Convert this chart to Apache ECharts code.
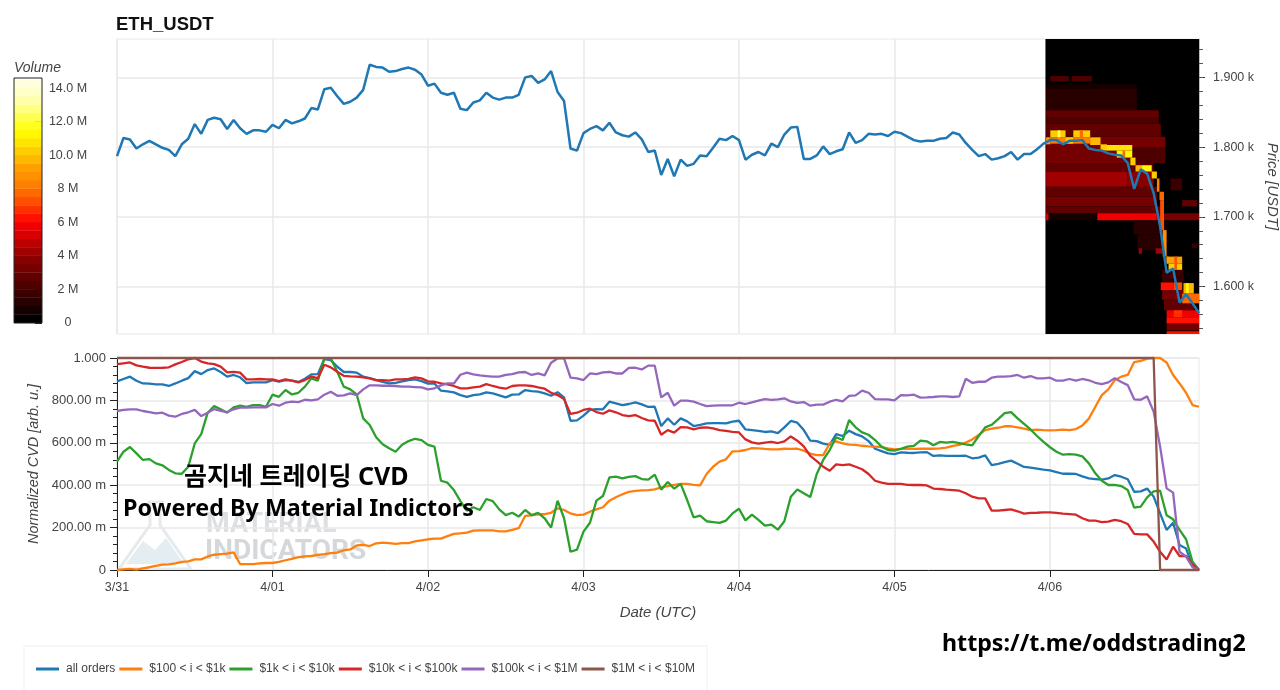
<!DOCTYPE html>
<html><head><meta charset="utf-8">
<style>html,body{margin:0;padding:0;background:#fff}#c{width:1280px;height:690px}</style>
<script src="https://cdn.jsdelivr.net/npm/echarts@6/dist/echarts.min.js"></script>
</head><body><div id="c"></div>
<script>
const dayTicks=[0,24,48,72,96,120,144];
const dayLabels=['3/31','4/01','4/02','4/03','4/04','4/05','4/06'];
const priceTicks=[1600,1700,1800,1900];
const priceLabels=['1.600 k','1.700 k','1.800 k','1.900 k'];
const priceMinorTicks=[1540,1560,1580,1600,1620,1640,1660,1680,1700,1720,1740,1760,1780,1800,1820,1840,1860,1880,1900,1920,1940];
const cvdLabels=['0','200.00 m','400.00 m','600.00 m','800.00 m','1.000'];
const volumeTicks=[0,2,4,6,8,10,12,14];
const volumeLabels=['0','2 M','4 M','6 M','8 M','10.0 M','12.0 M','14.0 M'];
const legendNames=['all orders','$100 < i < $1k','$1k < i < $10k','$10k < i < $100k','$100k < i < $1M','$1M < i < $10M'];
const lineColors=['#1f77b4','#ff7f0e','#2ca02c','#d62728','#9467bd','#8c564b'];

const price=[1787,1813,1811,1798,1804,1809,1804,1799,1796,1787,
1804,1812,1833,1819,1839,1842,1840,1826,1839,1827,
1819,1824,1824,1822,1832,1827,1839,1834,1837,1841,
1856,1854,1883,1885,1873,1862,1865,1871,1882,1918,
1915,1914,1908,1909,1912,1914,1911,1904,1888,1891,
1878,1875,1878,1855,1853,1864,1867,1878,1871,1868,
1871,1871,1875,1900,1902,1892,1897,1909,1879,1866,
1798,1795,1820,1826,1830,1824,1835,1821,1817,1815,
1821,1811,1793,1795,1760,1783,1758,1782,1773,1776,
1788,1787,1799,1812,1810,1816,1810,1782,1789,1793,
1788,1805,1800,1818,1828,1829,1783,1783,1788,1801,
1790,1794,1797,1821,1806,1810,1819,1818,1819,1816,
1822,1820,1815,1810,1808,1809,1809,1812,1813,1821,
1818,1806,1796,1787,1790,1782,1784,1787,1793,1782,
1790,1790,1797,1805,1810,1810,1804,1809,1809,1810,
1798,1796,1795,1791,1789,1788,1777,1740,1768,1762,
1734,1686,1620,1626,1577,1589,1576,1562];

const cvdAll=[890,901,912,893,880,879,876,876,868,880,
893,905,938,924,943,951,934,912,920,909,
882,885,885,885,896,888,896,893,887,902,
923,924,995,990,959,934,934,931,912,905,
896,887,880,883,890,896,899,891,879,880,
846,843,838,825,817,825,828,838,833,824,
814,827,828,849,844,841,833,822,839,813,
704,706,728,755,759,758,794,786,778,783,
791,781,769,770,679,715,685,715,701,679,
685,692,693,693,692,700,704,663,660,656,
651,654,646,673,703,695,660,610,608,596,
590,641,632,657,641,630,608,572,561,550,
547,555,553,552,555,556,538,541,538,538,
538,539,527,530,541,495,501,509,516,501,
486,483,478,473,470,462,454,454,453,442,
432,429,426,432,448,440,428,369,371,384,
346,267,189,223,118,101,19,0];

const cvd100=[0,3,5,2,8,13,19,25,27,31,
38,41,50,50,64,72,75,77,83,28,
28,28,31,33,33,38,46,53,61,64,
66,71,75,80,82,93,97,116,118,113,
126,129,127,123,127,127,135,140,145,148,
148,160,170,173,176,186,187,187,187,182,
182,189,197,255,258,263,263,270,291,283,
267,259,261,275,286,296,327,343,357,369,
373,376,377,380,390,396,401,406,406,402,
399,453,487,511,522,560,561,566,575,574,
571,569,569,572,571,572,563,549,542,542,
597,607,597,591,590,586,583,582,580,574,
569,571,571,571,572,572,572,574,577,585,
590,601,616,637,660,667,671,678,678,673,
667,660,662,660,659,660,662,660,665,682,
714,770,825,852,896,912,920,981,986,997,
1000,1000,979,920,880,836,778,770];

const cvd1k=[511,558,580,550,519,523,503,494,472,456,
454,487,597,641,742,773,758,742,767,775,
769,778,778,770,827,817,849,828,836,865,
904,893,998,998,935,865,852,828,715,684,
626,593,574,558,591,608,619,613,590,582,
421,412,377,325,280,296,283,335,325,286,
259,270,252,283,259,270,244,200,327,244,
86,96,181,223,327,349,437,440,432,439,
443,429,426,450,379,415,384,406,330,248,
256,230,226,222,233,267,289,234,261,236,
209,214,190,230,346,380,362,344,453,519,
566,626,613,707,673,649,638,613,582,566,
563,572,582,585,610,607,588,604,601,604,
599,593,588,632,673,685,712,740,745,715,
689,663,632,604,579,558,544,547,544,536,
503,456,421,401,402,396,377,294,299,343,
371,374,258,239,189,145,39,0];

const cvd10k=[971,975,979,965,959,954,953,954,956,970,
981,994,1000,983,975,971,959,932,935,931,
899,899,901,899,899,891,899,893,885,896,
912,905,968,956,935,916,913,912,909,904,
896,896,893,899,899,902,909,904,890,888,
880,876,868,857,857,861,865,877,868,860,
855,868,871,871,868,861,855,836,825,806,
736,742,755,761,745,737,753,744,731,726,
731,717,706,704,638,660,648,674,673,663,
671,673,668,660,656,652,649,616,602,596,
601,604,599,607,630,610,583,538,514,487,
468,498,495,498,487,475,453,421,412,406,
406,406,402,401,401,399,384,382,379,377,
374,362,346,338,338,280,280,283,286,277,
266,269,270,272,272,269,266,264,261,244,
233,233,226,228,236,230,217,170,168,168,
134,86,50,110,66,66,24,0];

const cvd100k=[750,755,758,758,750,745,739,742,728,723,
736,744,755,726,742,759,751,745,758,766,
766,767,767,767,783,775,789,794,792,803,
800,805,827,841,822,824,833,825,852,871,
871,869,869,868,865,865,863,861,852,857,
871,880,880,921,931,923,918,915,912,912,
920,924,932,934,920,927,918,978,998,998,
907,904,896,927,924,932,934,927,927,953,
954,946,964,964,814,836,775,799,799,794,
783,773,775,777,777,777,789,783,791,799,
806,802,805,810,795,788,792,775,780,780,
794,803,795,821,824,846,836,806,805,805,
800,825,824,827,813,814,816,819,819,816,
819,902,883,888,888,907,912,912,915,920,
907,915,904,904,907,893,893,901,893,901,
895,883,877,885,905,887,872,805,803,819,
747,582,385,365,86,63,13,0];

const cvd1M=[1000,1000,1000,1000,1000,1000,1000,1000,1000,1000,
1000,1000,1000,1000,1000,1000,1000,1000,1000,1000,
1000,1000,1000,1000,1000,1000,1000,1000,1000,1000,
1000,1000,1000,1000,1000,1000,1000,1000,1000,1000,
1000,1000,1000,1000,1000,1000,1000,1000,1000,1000,
1000,1000,1000,1000,1000,1000,1000,1000,1000,1000,
1000,1000,1000,1000,1000,1000,1000,1000,1000,1000,
1000,1000,1000,1000,1000,1000,1000,1000,1000,1000,
1000,1000,1000,1000,1000,1000,1000,1000,1000,1000,
1000,1000,1000,1000,1000,1000,1000,1000,1000,1000,
1000,1000,1000,1000,1000,1000,1000,1000,1000,1000,
1000,1000,1000,1000,1000,1000,1000,1000,1000,1000,
1000,1000,1000,1000,1000,1000,1000,1000,1000,1000,
1000,1000,1000,1000,1000,1000,1000,1000,1000,1000,
1000,1000,1000,1000,1000,1000,1000,1000,1000,1000,
1000,1000,1000,1000,1000,1000,1000,1000,1000,1000,
1000,0,0,0,0,0,0,0];

/* colour bar levels in M, one colour each */
const volumeLevels=[0,.5,1,1.5,2,2.5,3,3.5,4,4.5,5,5.5,6,6.5,7,7.5,8,8.5,9,9.5,10,10.5,11,11.5,12,12.5,13,13.5,14,14.5];
const volumeColors=['#000000','#150000','#280000','#3a0000','#4d0000','#600000','#740000','#880000','#a00000','#bc0000','#d80000','#f00000','#ff1000','#ff3000','#ff5000','#ff6800','#ff8000','#ff9000','#ffa000','#ffb800','#ffcc00','#ffe400','#fff800','#ffff20','#ffff50','#ffff80','#ffffa8','#ffffc8','#ffffe0','#fffff5'];

/* order-book volume: [hour from, hour to, price low, price high, volume M]; later rows lie on top */
const heatBands=[
[143.3,167,1532,1955,0],
[143.4,157.4,1884,1891,.5],
[143.4,157.4,1853,1884,1],
[144.05,146.9,1894,1902,2],
[147.4,150.5,1894,1902,2],
[143.4,160.8,1843,1853,2.5],
[143.4,160.8,1834,1843,2],
[143.4,161.1,1815,1834,2.5],
[143.4,161.8,1800,1815,3],
[143.4,156.4,1777,1800,3],
[156.4,161.8,1777,1800,2],
[143.4,160,1765,1777,2.5],
[143.4,155.9,1743,1765,4],
[155.9,160,1743,1765,3.5],
[143.4,160.5,1729,1743,2.5],
[143.4,160.5,1715,1729,3],
[143.4,161,1705,1715,2.5],
[143.4,143.8,1695,1705,5],
[143.8,151.3,1695,1705,.5],
[151.3,160.5,1695,1705,5.5],
[160.5,167,1695,1705,3],
[156.9,161.8,1675,1695,1],
[157.5,161.8,1652,1675,1],
[162.6,164.4,1738,1755,1.5],
[164.4,166.7,1715,1724,2.5],
[157.7,158.2,1647,1655,4],
[160.3,161.3,1647,1655,4],
[165.9,166.7,1655,1662,1.5],
[161.3,164.6,1607,1624,1.5],
[161.1,163.1,1595,1606,6],
[163.1,164.4,1595,1606,7],
[161.3,164.6,1581,1595,3],
[161.6,166.2,1566,1581,2.5],
[162,167,1556,1566,5.5],
[163.1,164.4,1556,1566,6.5],
[162,167,1547,1556,6],
[162,167,1537,1547,3],
[162,167,1532,1536,6],
[162,164.4,1633,1643,9],
[162.3,164.4,1624,1633,10],
[163.2,163.6,1624,1643,7],
[164.6,166.2,1590,1605,9.5],
[165,165.4,1590,1605,11],
[164.4,167,1576,1590,7.5],
[143.4,144.05,1804,1814,9],
[144.05,147.6,1805,1814,8],
[147.6,150.2,1805,1814,8],
[144.05,146.4,1814,1824,10],
[145.2,145.6,1814,1824,12],
[146.4,147.6,1805,1814,10],
[147.6,150.2,1814,1824,10],
[148.6,149.1,1814,1824,7.5],
[150.2,151.8,1803,1814,9.5],
[151.8,152.8,1795,1804,10],
[152.8,156.7,1795,1803,10.5],
[154.3,156.7,1785,1795,11],
[155.2,155.6,1785,1795,7.5],
[156.4,157.2,1774,1785,10],
[157.2,158.2,1765,1774,9.5],
[158.2,159.7,1765,1774,11],
[159.7,160.5,1755,1765,10],
[160.5,160.9,1736,1755,8],
[160.9,161.6,1724,1736,7.5],
[161,161.6,1681,1724,7],
[161.4,162,1643,1681,8.5],
[162,162.3,1633,1643,9]
];

const hourly=a=>a.map((v,i)=>[i,v]);
const lineSets=[cvdAll,cvd100,cvd1k,cvd10k,cvd100k,cvd1M];
const TXT='#444';
const FONT='"Liberation Sans",Arial,sans-serif';
const axisText={color:TXT,fontSize:12.5,fontFamily:FONT};
const nameText={color:'#444',fontSize:15,fontStyle:'italic',fontFamily:FONT};
const gridLine={show:true,lineStyle:{color:'#e8e8e8',width:1.5}};

const chart=echarts.init(document.getElementById('c'),null,{renderer:'canvas'});
chart.setOption({
  animation:false,
  backgroundColor:'#fff',
  title:{text:'ETH_USDT',left:111,top:10,textStyle:{fontSize:18.5,fontWeight:'bold',color:'#111',fontFamily:FONT}},
  legend:{data:legendNames,left:31,top:658,itemWidth:23,itemHeight:3,itemGap:4,icon:'rect',
    textStyle:{fontSize:12,color:'#444',fontFamily:FONT,padding:[0,0,0,2]}},
  grid:[
    {left:117,top:39,width:1082,height:295,show:true,borderColor:'#e8e8e8',borderWidth:1,outerBoundsMode:'none'},
    {left:117,top:358,width:1082,height:212,show:true,borderColor:'#e8e8e8',borderWidth:1,outerBoundsMode:'none'},
    {left:14,top:78,width:28,height:245,outerBoundsMode:'none'}
  ],
  xAxis:[
    {gridIndex:0,type:'value',min:0,max:167,axisLine:{show:false},axisTick:{show:false,customValues:dayTicks},axisLabel:{show:false,customValues:dayTicks},splitLine:gridLine},
    {gridIndex:1,type:'value',min:0,max:167,name:'Date (UTC)',nameLocation:'middle',nameGap:35,nameTextStyle:nameText,
      axisLine:{show:true,onZero:false,lineStyle:{color:'#222'}},
      axisTick:{show:true,length:7,customValues:dayTicks,lineStyle:{color:'#222'}},
      axisLabel:{...axisText,margin:11,customValues:dayTicks,formatter:v=>dayLabels[dayTicks.indexOf(v)]||''},
      splitLine:gridLine},
    {gridIndex:2,type:'value',min:0,max:1,show:false}
  ],
  yAxis:[
    {gridIndex:0,type:'value',position:'right',min:1532,max:1955,name:'Price [USDT]',nameLocation:'middle',nameGap:62,nameRotate:-90,nameTextStyle:nameText,
      axisLine:{show:true,onZero:false,lineStyle:{color:'#bbb'}},
      axisTick:{show:true,length:6,customValues:priceTicks,lineStyle:{color:'#333'}},
      axisLabel:{...axisText,margin:14,customValues:priceTicks,formatter:v=>priceLabels[priceTicks.indexOf(v)]||''},
      splitLine:gridLine},
    {gridIndex:0,type:'value',position:'right',min:1532,max:1955,axisLine:{show:false,onZero:false},
      axisTick:{show:true,length:4,customValues:priceMinorTicks,lineStyle:{color:'#555'}},
      axisLabel:{show:false,customValues:priceMinorTicks},splitLine:{show:false}},
    {gridIndex:1,type:'value',min:0,max:1000,interval:200,name:'Normalized CVD [arb. u.]',nameLocation:'middle',nameGap:71,nameTextStyle:{...nameText,fontSize:14.4},
      axisLine:{show:true,onZero:false,lineStyle:{color:'#222'}},
      axisTick:{show:true,length:7,lineStyle:{color:'#222'}},
      minorTick:{show:true,splitNumber:5,length:4,lineStyle:{color:'#222'}},
      axisLabel:{...axisText,fontSize:13,margin:11,formatter:v=>cvdLabels[Math.round(v/200)]},
      splitLine:gridLine},
    {gridIndex:2,type:'value',position:'right',min:0,max:14.6,
      axisLine:{show:false,onZero:false},
      axisTick:{show:true,inside:true,length:7,customValues:volumeTicks,lineStyle:{color:'#222'}},
      axisLabel:{...axisText,margin:26,align:'center',customValues:volumeTicks,formatter:v=>volumeLabels[volumeTicks.indexOf(v)]||''},
      splitLine:{show:false}}
  ],
  series:[
    {type:'custom',name:'heat',xAxisIndex:0,yAxisIndex:0,z:1,clip:true,silent:true,
      encode:{x:[0,1],y:[2,3]},data:heatBands,
      renderItem:(p,api)=>{
        const a=api.coord([api.value(0),api.value(3)]),b=api.coord([api.value(1),api.value(2)]);
        return {type:'rect',shape:{x:a[0],y:a[1],width:b[0]-a[0],height:b[1]-a[1]},
          style:{fill:volumeColors[volumeLevels.indexOf(api.value(4))]}};
      }},
    {type:'line',name:'price',xAxisIndex:0,yAxisIndex:0,z:3,showSymbol:false,data:hourly(price),
      lineStyle:{color:lineColors[0],width:2.5},itemStyle:{color:lineColors[0]}},
    ...legendNames.map((n,k)=>({type:'line',name:n,xAxisIndex:1,yAxisIndex:2,z:3+k,showSymbol:false,clip:false,data:hourly(lineSets[k]),
      lineStyle:{color:lineColors[k],width:2.3},itemStyle:{color:lineColors[k]}})),
    {type:'custom',name:'colorbar',xAxisIndex:2,yAxisIndex:3,z:1,silent:true,clip:true,
      encode:{y:0},data:volumeLevels.map(v=>[v]),
      renderItem:(p,api)=>{
        const lo=api.value(0);
        const a=api.coord([0,lo+.5+0.02]),b=api.coord([1,lo]);
        return {type:'rect',shape:{x:a[0],y:a[1],width:b[0]-a[0],height:b[1]-a[1]},style:{fill:volumeColors[volumeLevels.indexOf(lo)]}};
      }}
  ],
  graphic:[
    {type:'rect',z:0,shape:{x:24,y:646,width:683,height:50},style:{fill:'#fff',stroke:'#efefef',lineWidth:1}},
    {type:'rect',z:50,shape:{x:14,y:78,width:28,height:245},style:{fill:'none',stroke:'#222',lineWidth:1}},
    {type:'text',z:50,style:{text:'Volume',x:14,y:61,font:'italic 14px '+FONT,fill:'#444'}},
    {type:'polyline',z:0,shape:{points:[[148,502],[162,502],[160,505],[160,525],[191,569],[119,569],[150,525],[150,505],[148,502]]},style:{fill:'none',stroke:'#e6eaec',lineWidth:3}},
    {type:'polygon',z:0,shape:{points:[[126,564],[143,541],[155,550],[166,538],[184,564]]},style:{fill:'#e4edf1'}},
    {type:'text',z:0,style:{text:'MATERIAL',x:206,y:512,font:'bold 27px Roboto,sans-serif',fill:'#dddfe2'}},
    {type:'text',z:0,style:{text:'INDICATORS',x:205,y:538,font:'bold 28px Roboto,sans-serif',fill:'#d5d8da'}},
    {type:'text',z:100,style:{text:'곰지네 트레이딩 CVD',x:184,y:465,font:'bold 25px "Noto Sans","Noto Sans CJK KR"',fill:'#000'}},
    {type:'text',z:100,style:{text:'Powered By Material Indictors',x:123,y:498,font:'bold 23.3px "Noto Sans","Noto Sans CJK KR"',fill:'#000'}},
    {type:'text',z:100,style:{text:'https://t.me/oddstrading2',x:942,y:633,font:'bold 23.2px "Noto Sans","Noto Sans CJK KR"',fill:'#000'}}
  ]
});
</script></body></html>
